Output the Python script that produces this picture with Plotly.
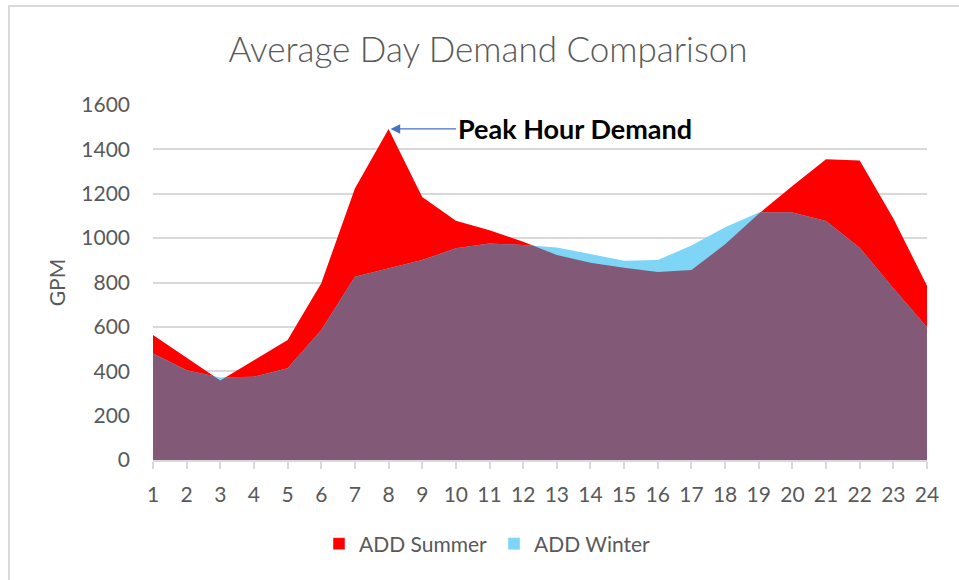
import plotly.graph_objects as go

hours = list(range(1, 25))
summer = [563, 460, 358, 450, 541, 797, 1224, 1492, 1185, 1078, 1036, 984,
          924, 889, 867, 847, 856, 972, 1110, 1235, 1355, 1350, 1089, 785]
winter = [480, 405, 372, 375, 413, 586, 826, 865, 901, 954, 976, 969,
          958, 928, 898, 901, 967, 1049, 1115, 1115, 1077, 957, 774, 598]

x_tick_labels = [str(h) for h in hours]
y_ticks = list(range(0, 1601, 200))

RED = "#FF0000"
BLUE = "#7FD5F6"
OVERLAP = "#825A78"
GRID = "#D9D9D9"
TXT = "#595959"
FONT = "Lato"


def lower_envelope(xs, a, b):
    """Lower envelope of two polylines, with crossing points inserted."""
    ex, ey = [], []
    for i in range(len(xs)):
        ex.append(xs[i])
        ey.append(min(a[i], b[i]))
        if i < len(xs) - 1:
            d0 = a[i] - b[i]
            d1 = a[i + 1] - b[i + 1]
            if d0 * d1 < 0:
                t = d0 / (d0 - d1)
                ex.append(xs[i] + t * (xs[i + 1] - xs[i]))
                ey.append(a[i] + t * (a[i + 1] - a[i]))
    return ex, ey


ox, oy = lower_envelope(hours, summer, winter)

fig = go.Figure()
fig.add_trace(go.Scatter(x=hours, y=summer, mode="lines", fill="tozeroy",
                         fillcolor=RED, line=dict(width=0, color=RED),
                         name="ADD Summer", showlegend=False, hoverinfo="x+y"))
fig.add_trace(go.Scatter(x=hours, y=winter, mode="lines", fill="tozeroy",
                         fillcolor=BLUE, line=dict(width=0, color=BLUE),
                         name="ADD Winter", showlegend=False, hoverinfo="x+y"))
fig.add_trace(go.Scatter(x=ox, y=oy, mode="lines", fill="tozeroy",
                         fillcolor=OVERLAP, line=dict(width=0, color=OVERLAP),
                         name="Overlap", showlegend=False, hoverinfo="skip"))
# legend entries (square swatches)
fig.add_trace(go.Bar(x=[None], y=[None], marker_color=RED, name="ADD Summer"))
fig.add_trace(go.Bar(x=[None], y=[None], marker_color=BLUE, name="ADD Winter"))

peak_i = summer.index(max(summer))
fig.add_annotation(x=hours[peak_i], y=summer[peak_i], xref="x", yref="y",
                   text="<b>Peak Hour Demand</b>", showarrow=True,
                   ax=186, ay=0, arrowhead=2, arrowsize=1.6, arrowwidth=1.2,
                   arrowcolor="#4472C4", standoff=2, startstandoff=0,
                   font=dict(family=FONT, size=27, color="#000000"),
                   xanchor="center", yanchor="middle")

fig.add_shape(type="rect", xref="paper", yref="paper",
              x0=(9 - 153) / 774, x1=(1100 - 153) / 774,
              y0=(460 - 700) / 355, y1=(460 - 6) / 355,
              line=dict(color=GRID, width=2), fillcolor="rgba(0,0,0,0)",
              layer="below")

fig.update_layout(
    width=959, height=580,
    margin=dict(l=153, r=32, t=105, b=120),
    paper_bgcolor="white", plot_bgcolor="white",
    title=dict(text="Average Day Demand Comparison", x=(488 - 153) / 774,
               xref="paper", xanchor="center", y=(580 - 50) / 580, yanchor="middle",
               font=dict(family=FONT, size=35, color=TXT, weight=300)),
    showlegend=True,
    legend=dict(orientation="h", x=(494 - 153) / 774, xanchor="center",
                y=(460 - 544) / 355, yanchor="middle",
                font=dict(family=FONT, size=21, color=TXT),
                itemwidth=30, traceorder="normal",
                entrywidth=130, entrywidthmode="pixels"),
    font=dict(family=FONT, color=TXT),
)
fig.update_xaxes(range=[1, 24], tickvals=hours, ticktext=x_tick_labels,
                 showgrid=False, zeroline=False, showline=True,
                 linecolor=GRID, linewidth=1.5, ticks="outside", ticklen=7,
                 tickcolor=GRID, tickwidth=1.5, ticklabelstandoff=8,
                 tickfont=dict(family=FONT, size=21, color=TXT), fixedrange=True)
fig.update_yaxes(range=[0, 1600], tickvals=y_ticks, showgrid=True,
                 gridcolor=GRID, gridwidth=1.5, zeroline=False, showline=False,
                 ticks="", ticklabelstandoff=22,
                 tickfont=dict(family=FONT, size=21, color=TXT),
                 title=dict(text="GPM", standoff=9,
                            font=dict(family=FONT, size=21, color=TXT)),
                 fixedrange=True)

fig.write_html("out.html", config={"displayModeBar": False},
               post_script="document.body.style.margin='0px';"
                           "document.body.style.overflow='hidden';")
